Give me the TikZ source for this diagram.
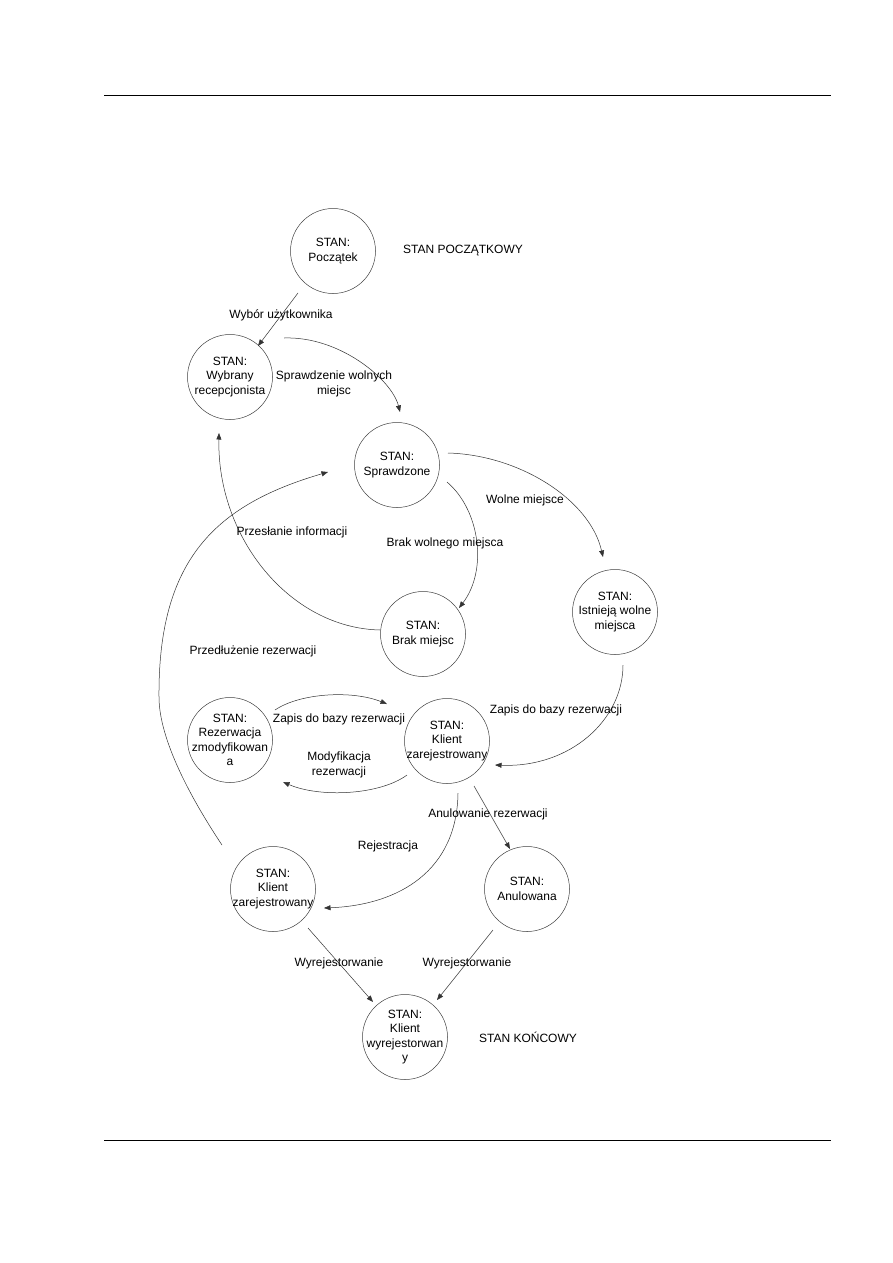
\documentclass[tikz,border=0pt]{standalone}
\usepackage{fontspec}
\setmainfont{Liberation Sans}
\usetikzlibrary{arrows.meta}
\begin{document}
\begin{tikzpicture}[x=1pt,y=-1pt,
  state/.style={circle,draw=black!75,line width=0.5pt,minimum size=85pt,inner sep=-12pt,align=center,font=\fontsize{12}{14.5}\selectfont},
  lab/.style={align=center,inner sep=0pt,font=\fontsize{12}{15.5}\selectfont},
  conn/.style={draw=black!80,line width=0.5pt,-{Triangle[length=6.5pt,width=5pt]}},
  headrule/.style={line width=1pt,black}]
\useasboundingbox (0,0) rectangle (893,1263);
\fill[white] (0,0) rectangle (893,1263);
% header / footer rules
\coordinate (hl) at (104,95); \coordinate (hr) at (831,95);
\coordinate (fl) at (104,1140); \coordinate (fr) at (831,1140);
\draw[headrule] (hl) -- (hr);
\draw[headrule] (fl) -- (fr);
% states
\node[state] (pocz) at (333,251) {STAN:\\Początek};
\node[state] (wybr) at (230,377) {STAN:\\Wybrany\\recepcjonista};
\node[state] (spr)  at (397,465) {STAN:\\Sprawdzone};
\node[state] (brak) at (423,634) {STAN:\\Brak miejsc};
\node[state] (ist)  at (615,612) {STAN:\\Istnieją wolne\\miejsca};
\node[state] (rez)  at (230,740) {STAN:\\Rezerwacja\\zmodyfikowan\\a};
\node[state] (kz)   at (447,741) {STAN:\\Klient\\zarejestrowany};
\node[state] (kz2)  at (273,889) {STAN:\\Klient\\zarejestrowany};
\node[state] (anul) at (527,889) {STAN:\\Anulowana};
\node[state] (kw)   at (405,1037) {STAN:\\Klient\\wyrejestorwan\\y};
% free labels
\node[lab] (tstart) at (463,251) {STAN POCZĄTKOWY};
\node[lab] (tend) at (528,1037) {STAN KOŃCOWY};
% connector end points
\coordinate (a1) at (298,293); \coordinate (a2) at (258,346);
\coordinate (b1) at (284,338); \coordinate (b2) at (400,412);
\coordinate (c1) at (448,453); \coordinate (c2) at (603,557);
\coordinate (d1) at (447,482); \coordinate (d2) at (459,608);
\coordinate (e1) at (380,630); \coordinate (e2) at (219,433);
\coordinate (f1) at (222,845); \coordinate (fm) at (159,697); \coordinate (f2) at (328,472);
\coordinate (g1) at (407,775); \coordinate (g2) at (283,782);
\coordinate (h1) at (275,710); \coordinate (h2) at (387,704);
\coordinate (i1) at (623,665); \coordinate (i2) at (495,765);
\coordinate (j1) at (458,793); \coordinate (j2) at (324,908);
\coordinate (k1) at (474,786); \coordinate (k2) at (510,849);
\coordinate (l1) at (308,928); \coordinate (l2) at (373,1002);
\coordinate (m1) at (493,930); \coordinate (m2) at (437,1000);
% connectors
\draw[conn] (a1) -- (a2);
\draw[conn] (b1) .. controls (340,336) and (392,380) .. (b2);
\draw[conn] (c1) .. controls (520,455) and (590,500) .. (c2);
\draw[conn] (d1) .. controls (480,510) and (488,570) .. (d2);
\draw[conn] (e1) .. controls (290,628) and (217,538) .. (e2);
\draw[conn] (f1) .. controls (192,800) and (159,740) .. (fm) .. controls (158,560) and (215,505) .. (f2);
\draw[conn] (g1) .. controls (380,795) and (320,798) .. (g2);
\draw[conn] (h1) .. controls (300,693) and (352,690) .. (h2);
\draw[conn] (i1) .. controls (623,720) and (570,768) .. (i2);
\draw[conn] (j1) .. controls (457,870) and (400,905) .. (j2);
\draw[conn] (k1) -- (k2);
\draw[conn] (l1) -- (l2);
\draw[conn] (m1) -- (m2);
% connector labels
\node[lab] (la) at (281,315) {Wybór użytkownika};
\node[lab] (lb) at (334,384) {Sprawdzenie wolnych\\miejsc};
\node[lab] (le) at (292,532) {Przesłanie informacji};
\node[lab] (ld) at (445,543) {Brak wolnego miejsca};
\node[lab] (lc) at (525,500) {Wolne miejsce};
\node[lab] (lf) at (253,651) {Przedłużenie rezerwacji};
\node[lab] (lh) at (339,719) {Zapis do bazy rezerwacji};
\node[lab] (li) at (556,710) {Zapis do bazy rezerwacji};
\node[lab] (lg) at (339,765) {Modyfikacja\\rezerwacji};
\node[lab] (lk) at (488,814) {Anulowanie rezerwacji};
\node[lab] (lj) at (388,846) {Rejestracja};
\node[lab] (ll) at (339,963) {Wyrejestorwanie};
\node[lab] (lm) at (467,963) {Wyrejestorwanie};
\end{tikzpicture}
\end{document}
